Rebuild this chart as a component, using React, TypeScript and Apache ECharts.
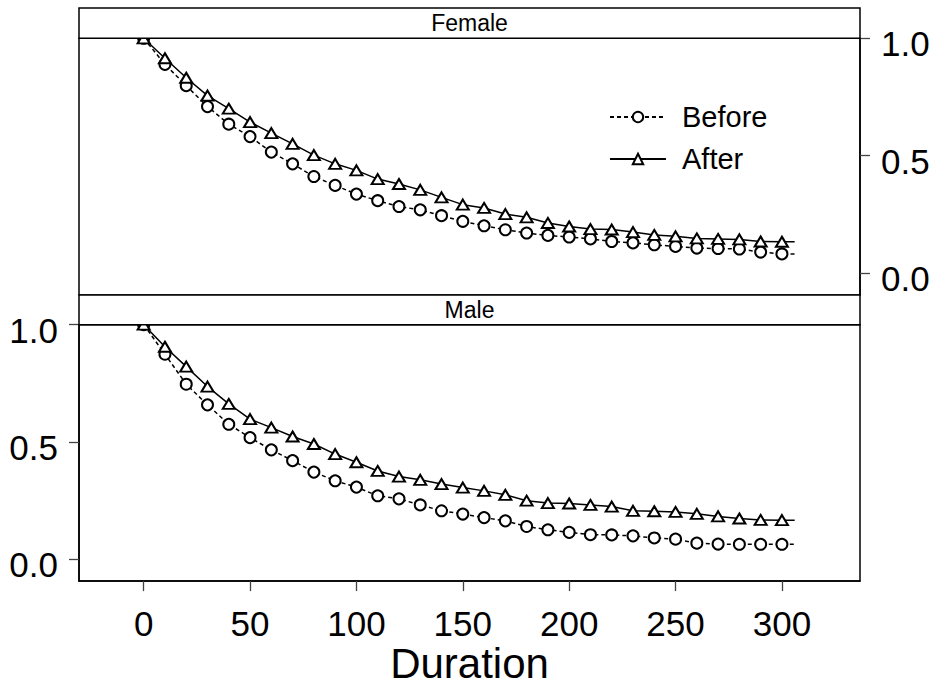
import React, { useEffect, useRef } from "react";
import * as echarts from "echarts";

// ---- data ----
const durations = [0, 10, 20, 30, 40, 50, 60, 70, 80, 90, 100, 110, 120, 130, 140, 150, 160, 170, 180, 190, 200, 210, 220, 230, 240, 250, 260, 270, 280, 290, 300];
const endDuration = 306;
const femaleBefore = [1.0, 0.889, 0.798, 0.709, 0.634, 0.581, 0.515, 0.465, 0.411, 0.373, 0.336, 0.308, 0.283, 0.269, 0.244, 0.22, 0.201, 0.184, 0.17, 0.16, 0.153, 0.145, 0.134, 0.128, 0.12, 0.113, 0.106, 0.104, 0.102, 0.089, 0.081];
const femaleAfter = [1.0, 0.915, 0.832, 0.756, 0.7, 0.643, 0.596, 0.55, 0.502, 0.465, 0.437, 0.4, 0.379, 0.354, 0.322, 0.291, 0.277, 0.251, 0.237, 0.213, 0.198, 0.187, 0.185, 0.174, 0.162, 0.156, 0.147, 0.145, 0.143, 0.134, 0.133];
const maleBefore = [1.0, 0.874, 0.746, 0.658, 0.575, 0.518, 0.466, 0.42, 0.371, 0.334, 0.307, 0.27, 0.257, 0.231, 0.206, 0.192, 0.177, 0.163, 0.139, 0.125, 0.114, 0.104, 0.103, 0.099, 0.09, 0.085, 0.068, 0.064, 0.063, 0.063, 0.063];
const maleAfter = [1.0, 0.906, 0.821, 0.736, 0.662, 0.597, 0.561, 0.523, 0.491, 0.448, 0.413, 0.376, 0.352, 0.338, 0.32, 0.305, 0.291, 0.274, 0.249, 0.239, 0.237, 0.231, 0.224, 0.206, 0.204, 0.201, 0.193, 0.182, 0.173, 0.167, 0.166];
const xTicks = [0, 50, 100, 150, 200, 250, 300];
const yTicks = [0, 0.5, 1.0];
const panelNames = ["Female", "Male"];
const groupNames = ["Before", "After"];
const xTitle = "Duration";

const FONT = "'Liberation Sans', Arial, sans-serif";
const TICK = { color: "#444", width: 1.3 };

function toData(vals: number[]) {
  const pts: any[] = durations.map((d, i) => [d, vals[i]]);
  pts.push({ value: [endDuration, vals[vals.length - 1]], symbol: "none" });
  return pts;
}

export default function App() {
  const ref = useRef<HTMLDivElement>(null);
  useEffect(() => {
    if (!ref.current) return;
    const chart = echarts.init(ref.current, null, { renderer: "svg" });
    const L = 79, W = 781;
    const grids = [
      { left: L, top: 38.3, width: W, height: 256.7 },
      { left: L, top: 324.7, width: W, height: 257 },
    ];
    const yBase = (pos: "left" | "right", idx: number) => ({
      type: "value",
      gridIndex: idx,
      position: pos,
      min: -0.094,
      max: 1.0,
      splitLine: { show: false },
      axisLine: { show: true, onZero: false, lineStyle: { color: "#000", width: 1.5 } },
      axisTick: { show: true, length: 10, customValues: yTicks, lineStyle: { ...TICK } },
      axisLabel: {
        show: true,
        customValues: yTicks,
        margin: 21,
        color: "#000",
        formatter: (v: number) => "{v|" + v.toFixed(1) + "}",
        rich: { v: { fontSize: 35, fontFamily: FONT, color: "#000", padding: [11, 0, 0, 0] } },
      },
    });
    const panelData = [
      [femaleBefore, femaleAfter],
      [maleBefore, maleAfter],
    ];
    const series: any[] = [];
    panelData.forEach((pair, p) => {
      pair.forEach((vals, g) => {
        series.push({
          type: "line",
          name: groupNames[g],
          xAxisIndex: p,
          yAxisIndex: p,
          data: toData(vals),
          symbol: g === 0 ? "emptyCircle" : "emptyTriangle",
          symbolSize: g === 0 ? 11 : [12, 10],
          showAllSymbol: true,
          lineStyle: { color: "#000", width: 1.5, type: g === 0 ? [4, 3] : "solid" },
          itemStyle: { color: "#000", borderWidth: 1 },
          emphasis: { disabled: true },
          z: 3,
        });
      });
    });
    const strip = (y: number, h: number, label: string) => [
      {
        type: "rect",
        shape: { x: L, y, width: W, height: h },
        style: { fill: "#fff", stroke: "#000", lineWidth: 1.5 },
        z: 10,
      },
      {
        type: "text",
        x: L + W / 2,
        y: y + h / 2,
        style: { text: label, fontSize: 23, fontFamily: FONT, fill: "#000", textAlign: "center", textVerticalAlign: "middle" },
        z: 11,
      },
    ];
    chart.setOption({
      animation: false,
      backgroundColor: "#fff",
      grid: grids.map((g) => ({ ...g, show: true, borderColor: "#000", borderWidth: 1.5 })),
      xAxis: [
        { type: "value", gridIndex: 0, min: -30.4, max: 336.7, show: false, splitLine: { show: false }, axisLine: { onZero: false } },
        {
          type: "value",
          gridIndex: 1,
          min: -30.4,
          max: 336.7,
          splitLine: { show: false },
          axisLine: { show: true, onZero: false, lineStyle: { color: "#000", width: 1.5 } },
          axisTick: { show: true, length: 10, customValues: xTicks, lineStyle: { ...TICK } },
          axisLabel: { show: true, customValues: xTicks, margin: 25, fontSize: 35, color: "#000", fontFamily: FONT },
          name: xTitle,
          nameLocation: "middle",
          nameGap: 55,
          nameTextStyle: { fontSize: 42, color: "#000", fontFamily: FONT },
        },
      ],
      yAxis: [yBase("right", 0), yBase("left", 1)],
      legend: {
        data: groupNames,
        orient: "vertical",
        left: 604,
        top: 97,
        itemWidth: 56,
        itemHeight: 13,
        itemGap: 12,
        selectedMode: false,
        textStyle: { fontSize: 29, lineHeight: 30, color: "#000", fontFamily: FONT, padding: [0, 0, 0, 11] },
      },
      graphic: [...strip(8, 30.3, panelNames[0]), ...strip(295, 29.7, panelNames[1])],
      series,
    });
    return () => chart.dispose();
  }, []);
  return <div ref={ref} style={{ position: "fixed", left: 0, top: 0, width: 948, height: 685, background: "#fff" }} />;
}
